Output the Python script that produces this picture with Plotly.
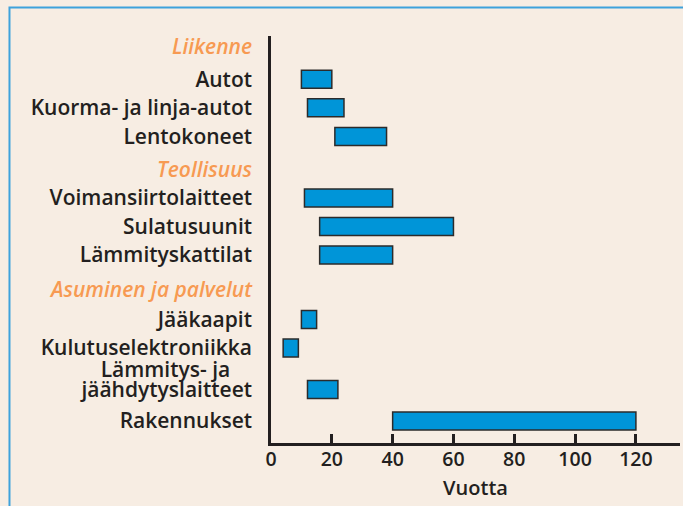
import plotly.graph_objects as go

# Data: lifetime ranges in years (start, end)
categories = ["Autot", "Kuorma- ja linja-autot", "Lentokoneet",
              "Voimansiirtolaitteet", "Sulatusuunit", "Lämmityskattilat",
              "Jääkaapit", "Kulutuselektroniikka", "jäähdytyslaitteet", "Rakennukset"]
start_years = [10, 12, 21, 11, 16, 16, 10, 4, 12, 40]
end_years = [20, 24, 38, 40, 60, 40, 15, 9, 22, 120]

group_headers = ["Liikenne", "Teollisuus", "Asuminen ja palvelut"]
extra_line = "Lämmitys- ja"

# layout: row slots on the y axis
bar_rows = [1, 2, 3, 5.15, 6.15, 7.15, 9.4, 10.4, 11.85, 12.95]
header_rows = [-0.15, 4.15, 8.35]
extra_line_row = 11.15

TEXT = "#231f20"
ORANGE = "#f79a52"
BLUE = "#0095d8"
BG = "#f7ede3"
FONT = "Open Sans"

fig = go.Figure()
fig.add_trace(go.Bar(
    y=bar_rows,
    x=[e - s for s, e in zip(start_years, end_years)],
    base=start_years,
    orientation="h",
    width=0.63,
    marker=dict(color=BLUE, line=dict(color="#2b2b2b", width=1.5)),
    hoverinfo="skip",
))

tickvals = header_rows + bar_rows + [extra_line_row]
ticktext = ([f"<i><span style='color:{ORANGE}'>{h}</span></i>" for h in group_headers]
            + categories + [extra_line + "\u00a0\u00a0\u00a0\u00a0"])

fig.update_layout(
    width=683, height=506,
    paper_bgcolor=BG, plot_bgcolor=BG,
    margin=dict(l=271, r=3, t=36, b=63),
    showlegend=False,
    font=dict(family=FONT, size=21, color=TEXT, weight=600),
    xaxis=dict(
        range=[0, 134.5],
        tickvals=[0, 20, 40, 60, 80, 100, 120],
        showgrid=False, zeroline=False, automargin=False,
        showline=True, linecolor=TEXT, linewidth=2.5,
        ticks="inside", ticklen=9, tickwidth=2.5, tickcolor=TEXT,
        tickfont=dict(size=19.5), ticklabelstandoff=-3,
        title=dict(text="Vuotta", standoff=10, font=dict(size=20)),
    ),
    yaxis=dict(
        range=[13.72, -0.51],
        tickvals=tickvals, ticktext=ticktext,
        showgrid=False, zeroline=False, automargin=False,
        showline=True, linecolor=TEXT, linewidth=2.5,
        ticks="", ticklabelstandoff=12,
    ),
    shapes=[dict(
        type="rect", xref="paper", yref="paper",
        x0=-0.6394, x1=1.2, y0=-0.4, y1=1.070,
        line=dict(color="#3ea2dc", width=2), layer="below",
    )],
)

fig.write_html("out.html", config={"displayModeBar": False},
               post_script="document.body.style.margin='0';")
